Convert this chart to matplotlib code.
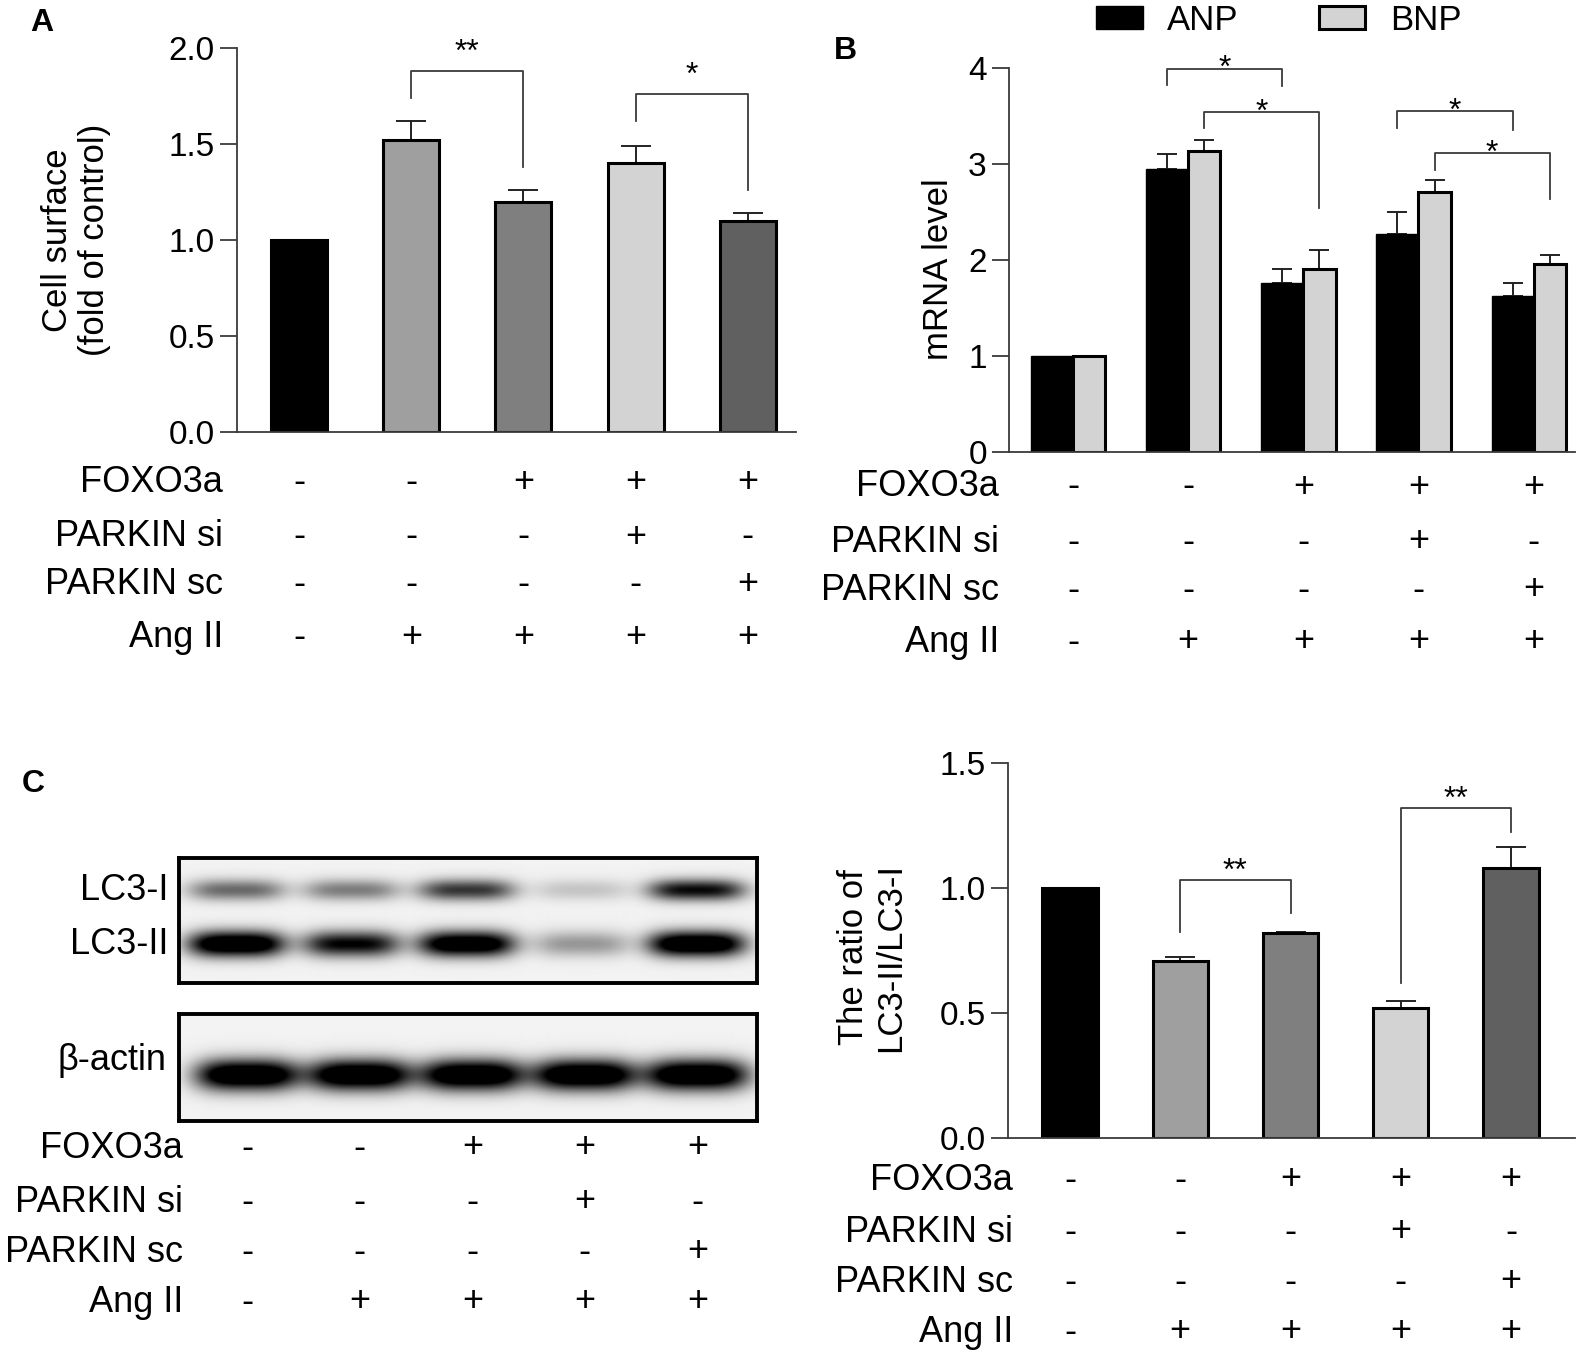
import numpy as np
import matplotlib
matplotlib.use("Agg")
import matplotlib.pyplot as plt
import matplotlib.transforms as mtransforms
from matplotlib.patches import Patch

plt.rcParams["font.family"] = ["Liberation Sans", "DejaVu Sans"]

W, H = 1590, 1355

# ---- data ----
row_labels = ["FOXO3a", "PARKIN si", "PARKIN sc", "Ang II"]
foxo3a = ["-", "-", "+", "+", "+"]
parkin_si = ["-", "-", "-", "+", "-"]
parkin_sc = ["-", "-", "-", "-", "+"]
ang_ii = ["-", "+", "+", "+", "+"]
conditions = [foxo3a, parkin_si, parkin_sc, ang_ii]

cell_surface = [1.0, 1.52, 1.20, 1.40, 1.10]
cell_surface_err = [0.0, 0.10, 0.06, 0.09, 0.04]

anp = [1.0, 2.95, 1.76, 2.27, 1.62]
anp_err = [0.0, 0.15, 0.15, 0.23, 0.14]
bnp = [1.0, 3.14, 1.91, 2.71, 1.96]
bnp_err = [0.0, 0.11, 0.19, 0.12, 0.09]

lc3_ratio = [1.0, 0.71, 0.82, 0.52, 1.08]
lc3_ratio_err = [0.0, 0.013, 0.005, 0.03, 0.083]

# relative band darkness per lane (western blot)
lc3_i_band = [0.42, 0.36, 0.58, 0.14, 0.72]
lc3_ii_band = [1.0, 0.75, 0.95, 0.28, 1.0]
actin_band = [1.0, 1.0, 1.0, 1.0, 1.0]

# significance brackets: (x1, x2, top, left end, right end, label)
sig_a = [(1, 2, 1.88, 1.74, 1.38, "**"), (3, 4, 1.76, 1.62, 1.26, "*")]
sig_b = [(1, "anp", 2, 3.99, 3.82, 3.81, "*"), (1, "bnp", 2, 3.54, 3.37, 2.54, "*"),
         (3, "anp", 4, 3.55, 3.38, 3.35, "*"), (3, "bnp", 4, 3.11, 2.94, 2.64, "*")]
sig_c = [(1, 2, 1.033, 0.823, 0.90, "**"), (3, 4, 1.32, 0.62, 1.223, "**")]

gray5 = ["#000000", "#9f9f9f", "#7f7f7f", "#d3d3d3", "#606060"]
LINE = "#3a3a3a"

fig = plt.figure(figsize=(W / 100, H / 100), dpi=100)


def px_axes(x0, y0, x1, y1):
    return fig.add_axes([x0 / W, 1 - y1 / H, (x1 - x0) / W, (y1 - y0) / H])


def ftext(x, y, s, **kw):
    fig.text(x / W, 1 - y / H, s, **kw)


def style(ax, ylim, ticks, fmt):
    ax.set_ylim(*ylim)
    ax.set_yticks(ticks)
    ax.set_yticklabels([fmt.format(t) for t in ticks])
    ax.set_xticks([])
    for s in ["top", "right"]:
        ax.spines[s].set_visible(False)
    for s in ["left", "bottom"]:
        ax.spines[s].set_color(LINE)
        ax.spines[s].set_linewidth(1.3)
    ax.tick_params(axis="y", length=12, width=1.3, color=LINE, labelsize=24, pad=4)


def cond_table(ax, xs, rows_y, label_right):
    tr = mtransforms.blended_transform_factory(ax.transData, fig.transFigure)
    for lab, vals, y in zip(row_labels, conditions, rows_y):
        ftext(label_right, y, lab, ha="right", va="center", fontsize=26)
        for x, v in zip(xs, vals):
            ax.text(x, 1 - y / H, v, transform=tr, ha="center", va="center", fontsize=26)


def bracket(ax, x1, x2, top, yl, yr, label, off):
    ax.plot([x1, x1, x2, x2], [yl, top, top, yr], color=LINE, lw=1.3, clip_on=False)
    ax.annotate(label, xy=((x1 + x2) / 2, top), xytext=(0, off), textcoords="offset points",
                ha="center", va="baseline", fontsize=23, annotation_clip=False)


def errbars(ax, xs, vals, errs, cap):
    xs = np.asarray(xs, float)
    vals = np.asarray(vals)
    errs = np.asarray(errs)
    m = errs > 0
    ax.errorbar(xs[m], vals[m], yerr=[np.zeros(m.sum()), errs[m]], fmt="none",
                ecolor="#222222", elinewidth=1.4, capsize=cap, capthick=1.4, zorder=1)


x5 = np.arange(5)

# ---- Panel A ----
axA = px_axes(237, 48, 796, 432)
axA.set_xlim(-0.554, 4.43)
errbars(axA, x5, cell_surface, cell_surface_err, 11)
axA.bar(x5, cell_surface, 0.50, color=gray5, edgecolor="black", linewidth=2.2, zorder=2)
style(axA, (0, 2.0), [0, 0.5, 1.0, 1.5, 2.0], "{:.1f}")
for x1, x2, top, yl, yr, lab in sig_a:
    bracket(axA, x1, x2, top, yl, yr, lab, 7)
ftext(76, 240, "Cell surface\n(fold of control)", rotation=90, ha="center", va="center",
      fontsize=25, multialignment="center", linespacing=1.15)
cond_table(axA, x5, [482, 537, 585, 637], 223)
ftext(30, 31, "A", fontsize=23, fontweight="bold", ha="left", va="baseline")

# ---- Panel B ----
axB = px_axes(1009, 68, 1575, 452)
axB.set_xlim(-0.556, 4.36)
wa, wb = 0.365, 0.28
xa = x5 - wa / 2
xb = x5 + wb / 2
errbars(axB, xa, anp, anp_err, 7)
errbars(axB, xb, bnp, bnp_err, 7)
axB.bar(x5, anp, -wa, align="edge", color="black", edgecolor="black", linewidth=1.0, zorder=2)
axB.bar(x5, bnp, wb, align="edge", color="#d3d3d3", edgecolor="black", linewidth=2.2, zorder=2)
style(axB, (0, 4), [0, 1, 2, 3, 4], "{:d}")
for g1, ser, g2, top, yl, yr, lab in sig_b:
    pos = xa if ser == "anp" else xb
    bracket(axB, pos[g1], pos[g2], top, yl, yr, lab, -6)
ftext(938, 269, "mRNA level", rotation=90, ha="center", va="center", fontsize=25)
cond_table(axB, x5, [487, 542, 590, 642], 999)
ftext(834, 59, "B", fontsize=23, fontweight="bold", ha="left", va="baseline")
handles = [Patch(facecolor="black", edgecolor="black", linewidth=1.0, label="ANP"),
           Patch(facecolor="#d3d3d3", edgecolor="black", linewidth=2.2, label="BNP")]
fig.legend(handles=handles, loc="center left", bbox_to_anchor=(1096 / W, 1 - 20 / H),
           ncol=2, frameon=False, fontsize=25, handlelength=1.35, handleheight=0.65,
           handletextpad=0.7, columnspacing=2.3, borderpad=0, borderaxespad=0)


# ---- Panel C: blots ----
def blot(ax, bands, ny, xlim):
    xs = np.linspace(xlim[0], xlim[1], 600)
    ys = np.arange(ny) + 0.5
    X, Y = np.meshgrid(xs, ys)
    dark = np.zeros_like(X)
    for inten, yc, sy, wx in bands:
        for i, v in enumerate(inten):
            dark += v * np.exp(-np.abs((X - i) / wx) ** 3.5) * np.exp(-0.5 * ((Y - yc) / sy) ** 2)
    img = 0.95 * (1 - np.clip(1.35 * dark, 0, 1))
    ax.imshow(img, cmap="gray", vmin=0, vmax=1, extent=(xlim[0], xlim[1], ny, 0),
              aspect="auto", interpolation="bilinear")
    ax.set_xlim(*xlim)
    ax.set_ylim(ny, 0)
    ax.set_xticks([])
    ax.set_yticks([])
    for s in ax.spines.values():
        s.set_linewidth(2.8)
        s.set_color("black")


axU = px_axes(179, 858, 757, 983)
blot(axU, [(lc3_i_band, 32, 7.5, 0.42), (lc3_ii_band, 86, 9, 0.42)], 125, (-0.496, 4.52))
axL = px_axes(179, 1014, 757, 1121)
blot(axL, [(actin_band, 61, 11, 0.46)], 107, (-0.606, 4.53))
ftext(168, 890, "LC3-I", ha="right", va="center", fontsize=26)
ftext(168, 945, "LC3-II", ha="right", va="center", fontsize=26)
ftext(166, 1060, "β-actin", ha="right", va="center", fontsize=26)
cond_table(axL, x5, [1148, 1202, 1252, 1302], 183)
ftext(22, 792, "C", fontsize=23, fontweight="bold", ha="left", va="baseline")

# ---- Panel C: ratio ----
axC = px_axes(1008, 763, 1575, 1138)
axC.set_xlim(-0.562, 4.58)
errbars(axC, x5, lc3_ratio, lc3_ratio_err, 11)
axC.bar(x5, lc3_ratio, 0.50, color=gray5, edgecolor="black", linewidth=2.2, zorder=2)
style(axC, (0, 1.5), [0, 0.5, 1.0, 1.5], "{:.1f}")
for x1, x2, top, yl, yr, lab in sig_c:
    bracket(axC, x1, x2, top, yl, yr, lab, 0)
ftext(872, 957, "The ratio of\nLC3-II/LC3-I", rotation=90, ha="center", va="center",
      fontsize=25, multialignment="center", linespacing=1.15)
cond_table(axC, x5, [1180, 1232, 1282, 1332], 1013)

fig.savefig("out.png", dpi=100)
